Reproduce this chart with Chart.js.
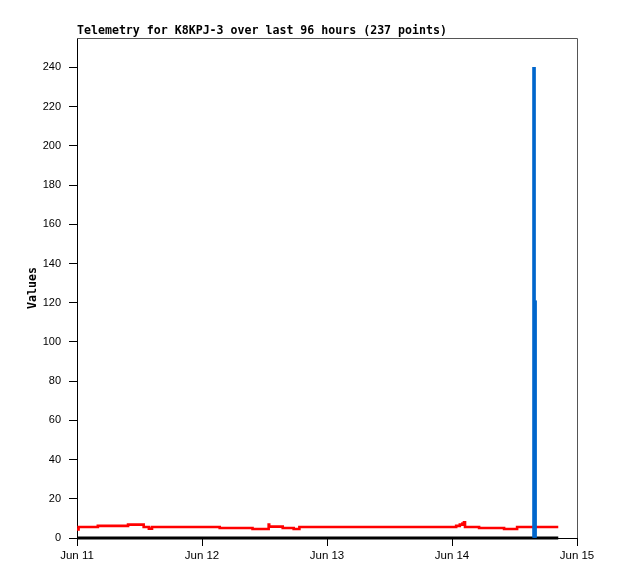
<!DOCTYPE html>
<html>
<head>
<meta charset="utf-8">
<title>Telemetry K8KPJ-3</title>
<script src="https://cdn.jsdelivr.net/npm/chart.js@4.4.0/dist/chart.umd.min.js"></script>
<style>
    html, body { margin: 0; padding: 0; background: #fff; }
    #chart-wrap { width: 618px; height: 579px; }
</style>
</head>
<body>
<div id="chart-wrap"><canvas id="telemetryCanvas"></canvas></div>
<script>
/* Telemetry chart, values */

const chartTitle = 'Telemetry for K8KPJ-3 over last 96 hours (237 points)';
const dayLabels = ['Jun 11', 'Jun 12', 'Jun 13', 'Jun 14', 'Jun 15'];
const yTickValues = [0, 20, 40, 60, 80, 100, 120, 140, 160, 180, 200, 220, 240];

// hours since Jun 11 00:00, each value holds until the next point
const redHours  = [0, 0.3, 4.0, 9.8, 12.8, 13.8, 14.4, 27.4, 33.7, 36.8, 36.9, 39.5, 41.6, 42.7, 72.8, 73.5, 74.0, 74.3, 74.5, 77.2, 82.0, 84.5, 92.4];
const redValues = [4.3, 5.6, 6.2, 6.8, 5.6, 4.8, 5.6, 5.1, 4.6, 6.8, 5.8, 5.1, 4.6, 5.6, 6.2, 6.8, 7.4, 8.0, 5.6, 5.1, 4.6, 5.6, 5.6];

const blueHours  = [87.75, 87.95];
const blueValues = [240, 121];

const zeroHours  = [0, 92.4];
const zeroValues = [0, 0];

const toPoints = (xs, ys) => xs.map((x, i) => ({ x: x, y: ys[i] }));

// title left-aligned on the plot edge + top/right frame
const framePlugin = {
    id: 'framePlugin',
    afterDraw(chart) {
        const { ctx, chartArea } = chart;
        ctx.save();
        ctx.strokeStyle = '#555';
        ctx.lineWidth = 1;
        ctx.beginPath();
        ctx.moveTo(chartArea.left, chartArea.top + 0.5);
        ctx.lineTo(chartArea.right + 0.5, chartArea.top + 0.5);
        ctx.lineTo(chartArea.right + 0.5, chartArea.bottom);
        ctx.stroke();

        ctx.fillStyle = '#000';
        ctx.font = 'bold 11.6px "DejaVu Sans Mono"';
        ctx.textBaseline = 'middle';
        ctx.textAlign = 'left';
        ctx.fillText(chartTitle, chartArea.left, 31);
        ctx.restore();
    }
};

const ctx = document.getElementById('telemetryCanvas').getContext('2d');

new Chart(ctx, {
    type: 'line',
    data: {
        datasets: [
            {
                type: 'bar',
                label: 'spike',
                data: toPoints(blueHours, blueValues),
                backgroundColor: '#0066cc',
                barThickness: 3,
                order: 0
            },
            {
                label: 'zero',
                data: toPoints(zeroHours, zeroValues),
                borderColor: '#000',
                borderWidth: 3,
                pointRadius: 0,
                clip: false,
                order: 1
            },
            {
                label: 'value',
                data: toPoints(redHours, redValues),
                borderColor: '#ff0000',
                borderWidth: 2.6,
                pointRadius: 0,
                stepped: 'before',
                order: 2
            }
        ]
    },
    options: {
        responsive: true,
        maintainAspectRatio: false,
        animation: false,
        layout: { padding: { left: 0, right: 41, top: 38, bottom: 0 } },
        plugins: {
            legend: { display: false },
            tooltip: { enabled: false },
            title: { display: false }
        },
        scales: {
            x: {
                type: 'linear',
                min: 0,
                max: 96,
                offset: false,
                afterFit: (scale) => { scale.height = 41; },
                grid: { offset: false, drawOnChartArea: false, drawTicks: true, tickLength: 8, color: '#000' },
                border: { display: true, color: '#000' },
                ticks: {
                    stepSize: 24,
                    padding: 3,
                    color: '#000',
                    maxRotation: 0,
                    font: { family: '"Liberation Sans"', size: 11.5 },
                    callback: (v) => dayLabels[v / 24]
                }
            },
            y: {
                min: 0,
                max: 255,
                afterFit: (scale) => { scale.width = 77; },
                afterBuildTicks: (scale) => {
                    scale.ticks = yTickValues.map(v => ({ value: v }));
                },
                grid: { drawOnChartArea: false, drawTicks: true, tickLength: 8, color: '#000' },
                border: { display: true, color: '#000' },
                ticks: {
                    padding: 8,
                    color: '#000',
                    font: { family: '"Liberation Sans"', size: 11 }
                },
                title: {
                    display: true,
                    text: 'Values',
                    color: '#000',
                    padding: { top: 26, bottom: 0 },
                    font: { family: '"DejaVu Sans Mono"', size: 11.6, weight: 'bold' }
                }
            }
        }
    },
    plugins: [framePlugin]
});
</script>
</body>
</html>
